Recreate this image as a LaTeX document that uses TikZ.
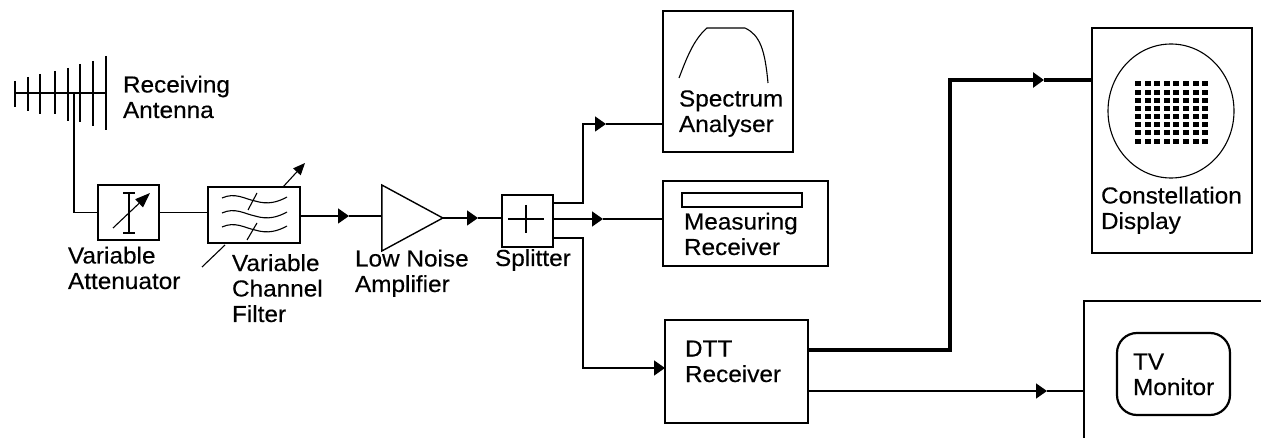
\documentclass[tikz,border=0pt]{standalone}
\usepackage{fontspec}
\setmainfont[FakeStretch=1.05,FakeBold=0.3]{Liberation Sans}
\usetikzlibrary{positioning}
\usetikzlibrary{arrows.meta,shapes.geometric}
\begin{document}
\begin{tikzpicture}[x=1pt,y=-1pt,line width=1.4pt,
    base/.style={draw,line width=1.4pt,outer sep=0pt,inner sep=0pt},
    altro/.style={align=left,inner sep=0pt,outer sep=0pt,anchor=base west,font=\fontsize{23.2}{25.5}\selectfont},
    flow/.style={-{Triangle[length=11pt,width=15pt]}},
    heavy/.style={line width=3.4pt},
    thin/.style={line width=1.1pt}]
        \useasboundingbox (0,0) rectangle (1261,438);
        %
        \node[base,minimum width=61pt,minimum height=55pt](atten) at (128.5,212.5){};
        \node[base,right=49pt of atten,yshift=-2.5pt,minimum width=92pt,minimum height=56pt](filter){};
        \node[base,isosceles triangle,isosceles triangle stretches,minimum width=66pt,minimum height=61pt](amp) at (401.5,218){};
        \node[base,minimum width=51pt,minimum height=52pt](split) at (527.5,221){};
        \node[base,minimum width=130pt,minimum height=141pt](spec) at (728,81.5){};
        \node[base,minimum width=165pt,minimum height=85pt](meas) at (745.5,223.5){};
        \node[base,minimum width=143pt,minimum height=103pt](dtt) at (736.5,371.5){};
        \node[base,minimum width=160pt,minimum height=225pt](const) at (1172,140.5){};
        %
        % monitor cabinet runs off the page
        \coordinate(tvcorner) at (1084,301);
        \draw (1084,438) -- (tvcorner) -- (1261,301);
        %
        % antenna
        \foreach \x/\t/\b in {15/81/107,28/77/111,40/74/114,55/71/114,68/68/121,80/64/122,93/61/126,106/56/130}
            \draw (\x,\t) -- (\x,\b);
        \coordinate(boomw) at (15,93);
        \coordinate(boome) at (106,93);
        \coordinate(feed) at (74,93);
        \draw (boomw) -- (boome);
        \draw (feed) |- (atten.west);
        %
        % attenuator symbol
        \draw[thin] (129,193) -- (129,233) (123,193) -- (135,193) (123,233) -- (135,233);
        \draw[thin,-{Triangle[length=15pt,width=11pt]}] (113,228) -- (150,193);
        %
        % filter symbol
        \foreach \y in {198,213,227}
            \draw[thin] (222,\y) .. controls (235,\y-6) and (245,\y+1) .. (255,\y+3) .. controls (268,\y+7) and (278,\y+4) .. (287,\y-1);
        \draw[thin] (257,193) -- (248,210) (257,223) -- (247,240);
        \draw[thin,-{Triangle[length=12pt,width=10pt]}] (filter.north) ++(29,0) -- ++(22,-24);
        \draw[thin] (filter.south) ++(-29,2) -- ++(-23,22);
        %
        \coordinate[yshift=-1pt](filterout) at (filter.east);
        \coordinate(ampin) at (filterout -| amp.lower side);
        \coordinate[xshift=49pt](tipa) at (filterout);
        \coordinate[xshift=-24pt](tipb) at (amp.apex -| split.west);
        \draw (atten.east) -- (atten.east -| filter.west);
        \draw[flow] (filterout) -- (tipa);
        \draw (tipa) -- (ampin);
        \draw[flow] (amp.apex) -- (tipb);
        \draw (tipb) -- (tipb -| split.west);
        %
        % splitter
        \draw[thin] (508,219) -- (544,219) (526,205) -- (526,233);
        \coordinate[yshift=18pt](splitup) at (split.east);
        \coordinate[yshift=2pt](splitmid) at (split.east);
        \coordinate[yshift=-17pt](splitlow) at (split.east);
        \coordinate(tipc) at (606,124);
        \coordinate(tipd) at (603,219);
        \coordinate(tipe) at (665,368);
        \draw[flow] (splitup) -- (583,203) -- (583,124) -- (tipc);
        \draw (tipc) -- (tipc -| spec.west);
        \draw[flow] (splitmid) -- (tipd);
        \draw (tipd) -- (tipd -| meas.west);
        \draw[flow] (splitlow) -- (583,238) -- (583,368) -- (tipe);
        %
        % spectrum trace
        \draw[thin] (679,78) .. controls (686,60) and (693,40) .. (707,28) -- (745,28) .. controls (760,35) and (765,50) .. (768,83);
        % receiver bar
        \node[base,line width=2.4pt,minimum width=120pt,minimum height=14pt,right=19pt of meas.west,yshift=23.5pt](bar){};
        %
        % screen
        \node[base,ellipse,thin,minimum width=126pt,minimum height=134pt](screen) at (1171,111){};
        \foreach \i in {0,...,7}
            \foreach \j in {0,...,7}
                \fill ({1138+9.6*\i-3},{84+8.15*\j-2.5}) rectangle ++(6,5);
        %
        \coordinate[yshift=21.5pt](dttup) at (dtt.east);
        \coordinate[yshift=-19.5pt](dttlow) at (dtt.east);
        \coordinate(tipf) at (1044,80);
        \coordinate(tipg) at (1047,391);
        \draw[heavy,-{Triangle[length=11pt,width=15pt]}] (dttup) -- (950,350) -- (950,80) -- (tipf);
        \draw[heavy] (tipf) -- (tipf -| const.west);
        \draw[flow] (dttlow) -- (tipg);
        \draw (tipg) -- (tipg -| tvcorner);
        %
        \node[base,rounded corners=20pt,line width=2.2pt,minimum width=113pt,minimum height=82pt](tv) at (1173.5,374){};
        %
        \node[altro](antlab) at (123,118){Receiving\\Antenna};
        \node[altro](attlab) at (68,289){Variable\\Attenuator};
        \node[altro](fillab) at (232,322){Variable\\Channel\\Filter};
        \node[altro](amplab) at (355,292){Low Noise\\Amplifier};
        \node[altro](spllab) at (495,266){Splitter};
        \node[altro](speclab) at (679,132){Spectrum\\Analyser};
        \node[altro](measlab) at (684,255){Measuring\\Receiver};
        \node[altro](dttlab) at (685,382){DTT\\Receiver};
        \node[altro](constlab) at (1101,229){Constellation\\Display};
        \node[altro](tvlab) at (1133,395){TV\\Monitor};
    \end{tikzpicture}
\end{document}
